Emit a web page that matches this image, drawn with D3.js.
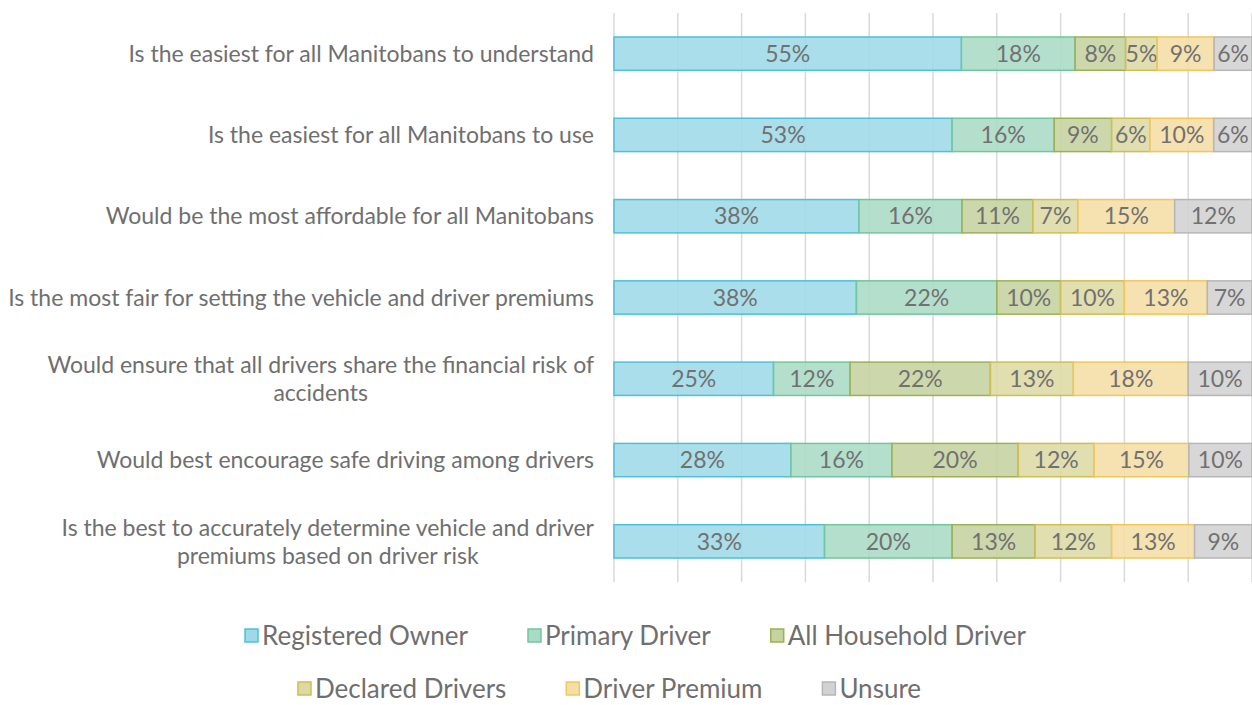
<!DOCTYPE html>
<html>
<head>
<meta charset="utf-8">
<script src="https://cdn.jsdelivr.net/npm/d3@7"></script>
<style>
  html, body { margin: 0; padding: 0; background: #fff; }
  svg { display: block; font-family: Lato, "Open Sans", sans-serif; }
</style>
</head>
<body>
<svg id="chart" width="1252" height="705"></svg>
<script>
const categories = [
  ["Is the easiest for all Manitobans to understand"],
  ["Is the easiest for all Manitobans to use"],
  ["Would be the most affordable for all Manitobans"],
  ["Is the most fair for setting the vehicle and driver premiums"],
  ["Would ensure that all drivers share the financial risk of", "accidents"],
  ["Would best encourage safe driving among drivers"],
  ["Is the best to accurately determine vehicle and driver", "premiums based on driver risk"]
];
const seriesNames = ["Registered Owner", "Primary Driver", "All Household Driver", "Declared Drivers", "Driver Premium", "Unsure"];
const registeredOwner    = [55, 53, 38, 38, 25, 28, 33];
const primaryDriver      = [18, 16, 16, 22, 12, 16, 20];
const allHouseholdDriver = [8, 9, 11, 10, 22, 20, 13];
const declaredDrivers    = [5, 6, 7, 10, 13, 12, 12];
const driverPremium      = [9, 10, 15, 13, 18, 15, 13];
const unsure             = [6, 6, 12, 7, 10, 10, 9];
const gridTicks = [0, 0.1, 0.2, 0.3, 0.4, 0.5, 0.6, 0.7, 0.8, 0.9, 1];

const fills   = ["#9dd9e7", "#aadbc6", "#c5d3a0", "#ddd9a5", "#f4dea5", "#d2d2d2"];
const strokes = ["#4fc0d8", "#72c69d", "#9bb152", "#cdbf52", "#f1c75c", "#b6b6b6"];

const allSeries = [registeredOwner, primaryDriver, allHouseholdDriver, declaredDrivers, driverPremium, unsure];
const rows = categories.map((c, i) => {
  const r = { idx: i };
  seriesNames.forEach((s, j) => r[s] = allSeries[j][i]);
  return r;
});

const svg = d3.select("#chart");
const plot = { left: 614, right: 1252, top: 13, bottom: 582 };

const x = d3.scaleLinear().domain([0, 1]).range([plot.left, plot.right]);
const y = d3.scaleBand().domain(d3.range(categories.length)).range([plot.top, plot.bottom]).paddingInner(0.59).paddingOuter(0.295);

// gridlines
svg.append("g").selectAll("line").data(gridTicks).join("line")
  .attr("x1", d => x(d)).attr("x2", d => x(d))
  .attr("y1", plot.top).attr("y2", plot.bottom)
  .attr("stroke", "#d9d9d9").attr("stroke-width", 1.5);

const stack = d3.stack().keys(seriesNames).offset(d3.stackOffsetExpand);
const stacked = stack(rows);

const gBars = svg.append("g");
stacked.forEach((layer, j) => {
  const g = gBars.append("g");
  g.selectAll("rect").data(layer).join("rect")
    .attr("x", d => x(d[0]))
    .attr("y", (d, i) => y(i))
    .attr("width", d => x(d[1]) - x(d[0]))
    .attr("height", y.bandwidth())
    .attr("fill", fills[j]).attr("fill-opacity", 0.88)
    .attr("stroke", strokes[j]).attr("stroke-width", 1.5);
  g.selectAll("text").data(layer).join("text")
    .attr("x", d => (x(d[0]) + x(d[1])) / 2)
    .attr("y", (d, i) => y(i) + y.bandwidth() / 2)
    .attr("dy", "0.36em")
    .attr("text-anchor", "middle")
    .attr("font-size", 23)
    .attr("fill", "#717171")
    .text((d, i) => allSeries[j][i] + "%");
});

// category labels
const gLab = svg.append("g");
categories.forEach((lines, i) => {
  const cy = y(i) + y.bandwidth() / 2;
  const lh = 28;
  const t = gLab.append("text")
    .attr("text-anchor", "middle")
    .attr("font-size", 23)
    .attr("fill", "#6f6f6f");
  const spans = lines.map((ln, k) => t.append("tspan")
      .attr("x", 0)
      .attr("y", cy + (k - (lines.length - 1) / 2) * lh)
      .attr("dy", "0.36em")
      .text(ln));
  const w = d3.max(spans, s => s.node().getComputedTextLength());
  spans.forEach(s => s.attr("x", 594 - w / 2));
});

// legend
const legendRows = [[0, 1, 2], [3, 4, 5]];
const legendY = [636, 689];
const legendStart = [245, 298];
legendRows.forEach((items, r) => {
  const g = svg.append("g");
  let start = legendStart[r];
  items.forEach(j => {
    const item = g.append("g").attr("transform", `translate(${start},${legendY[r]})`);
    item.append("rect").attr("x", 0).attr("y", -7).attr("width", 13).attr("height", 13)
      .attr("fill", fills[j]).attr("stroke", strokes[j]).attr("stroke-width", 1.5);
    const tx = item.append("text").attr("x", 17).attr("y", 0).attr("dy", "0.36em")
      .attr("font-size", 26).attr("fill", "#6f6f6f").text(seriesNames[j]);
    start += 17 + tx.node().getComputedTextLength() + 60;
  });
});
</script>
</body>
</html>
